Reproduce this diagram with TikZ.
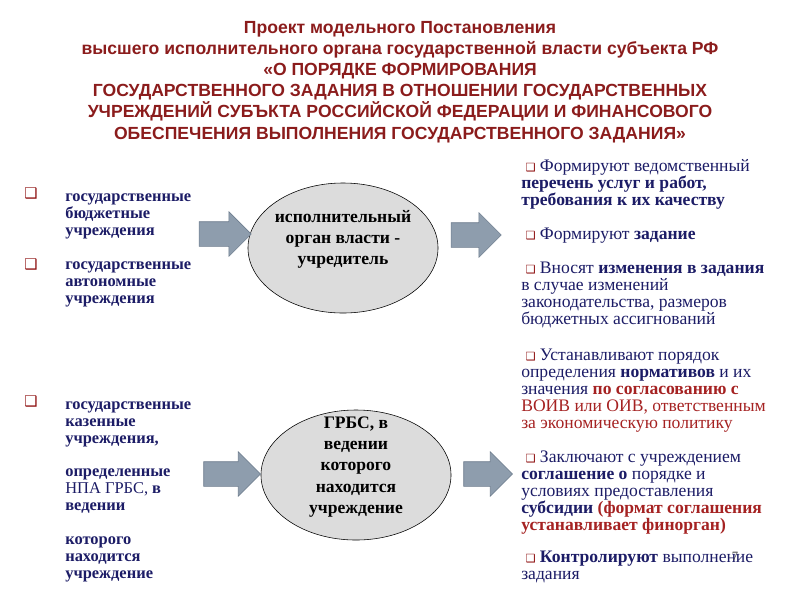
\documentclass[tikz,border=0pt]{standalone}
\usepackage{fontspec}
\setmainfont{Liberation Serif}
\newfontfamily\titlefont{Liberation Sans}
\newfontfamily\bulletfont{DejaVu Sans}
\usetikzlibrary{shapes.geometric, shapes.arrows}
\definecolor{titlered}{HTML}{8B1C1C}
\definecolor{navy}{HTML}{1C1C66}
\definecolor{notered}{HTML}{A52222}
\definecolor{bulletred}{HTML}{8B0A0A}
\definecolor{ovalgray}{HTML}{DCDCDC}
\definecolor{arrowfill}{HTML}{8E9DAD}
\definecolor{arrowline}{HTML}{6E7D8E}
\newcommand{\sqbul}{{\bulletfont\fontsize{8}{8}\selectfont\color{bulletred}❑}}

\begin{document}
\begin{tikzpicture}[x=0.025cm, y=-0.025cm,
  titletext/.style={anchor=base, inner sep=0pt, align=center, text=titlered,
    font=\titlefont\bfseries\fontsize{12.5}{15}\selectfont},
  leftlist/.style={anchor=base west, inner sep=0pt, align=left, text=navy,
    font=\bfseries\fontsize{11.7}{12}\selectfont},
  rightlist/.style={anchor=base west, inner sep=0pt, align=left, text=navy,
    font=\fontsize{12.5}{12}\selectfont},
  leftbullet/.style={inner sep=0pt, text=bulletred, font=\bulletfont\fontsize{10.5}{10.5}\selectfont},
  oval/.style={ellipse, draw=black, thin, fill=ovalgray, minimum width=4.75cm, minimum height=3.25cm},
  ovaltext/.style={align=center, inner sep=0pt, font=\bfseries\fontsize{12.5}{15}\selectfont},
  blockarrow/.style={single arrow, draw=arrowline, fill=arrowfill, inner xsep=0pt, inner ysep=0.3cm,
    single arrow head extend=0.25cm}
]
\useasboundingbox (0,0) rectangle (800,600);

% title (base = last line)
\node[titletext] (title) at (400,139) {Проект модельного Постановления\\
  высшего исполнительного органа государственной власти субъекта РФ\\
  «О ПОРЯДКЕ ФОРМИРОВАНИЯ\\
  ГОСУДАРСТВЕННОГО ЗАДАНИЯ В ОТНОШЕНИИ ГОСУДАРСТВЕННЫХ\\
  УЧРЕЖДЕНИЙ СУБЪКТА РОССИЙСКОЙ ФЕДЕРАЦИИ И ФИНАНСОВОГО\\
  ОБЕСПЕЧЕНИЯ ВЫПОЛНЕНИЯ ГОСУДАРСТВЕННОГО ЗАДАНИЯ»};

% left column
\node[leftbullet] (bulbu) at (31,193) {❑};
\node[leftlist] (budget) at (65,235) {государственные\\ бюджетные\\ учреждения};
\node[leftbullet] (bulau) at (31,264) {❑};
\node[leftlist] (auton) at (65,303) {государственные\\ автономные\\ учреждения};
\node[leftbullet] (bulku) at (31,401) {❑};
\node[leftlist] (kazen) at (65,578) {государственные\\ казенные\\ учреждения,\\ \\
  определенные\\ {\mdseries НПА ГРБС,} в\\ ведении\\ \\ которого\\ находится\\ учреждение};

% ovals
\node[oval] (oiv) at (343,248) {};
\node[ovaltext] (oivtext) at (343,239) {исполнительный\\ орган власти -\\ учредитель};
\node[oval] (grbs) at (356,475) {};
\node[ovaltext] (grbstext) at (356,467) {ГРБС, в\\ ведении\\ которого\\ находится\\ учреждение};

% block arrows
\node[blockarrow, minimum height=1.3cm] (inone) at (219,234) {};
\node[blockarrow, minimum height=1.25cm] (outone) at (470,235) {};
\node[blockarrow, minimum height=1.42cm] (intwo) at (226,474) {};
\node[blockarrow, minimum height=1.22cm] (outtwo) at (482,474) {};

% right column
\node[rightlist] (perechen) at (521,205) {\hspace{3pt}\sqbul\ Формируют ведомственный\\
  \textbf{перечень услуг и работ,}\\ \textbf{требования к их качеству}};
\node[rightlist] (zadanie) at (521,239) {\hspace{3pt}\sqbul\ Формируют \textbf{задание}};
\node[rightlist] (izmen) at (521,324) {\hspace{3pt}\sqbul\ Вносят \textbf{изменения в задания}\\
  в случае изменений\\ законодательства, размеров\\ бюджетных ассигнований};
\node[rightlist] (normativ) at (521,428) {\hspace{3pt}\sqbul\ Устанавливают порядок\\
  определения \textbf{нормативов} и их\\
  значения \textcolor{notered}{\textbf{по согласованию с}}\\
  \textcolor{notered}{ВОИВ или ОИВ, ответственным}\\
  \textcolor{notered}{за экономическую политику}};
\node[rightlist] (soglash) at (521,530) {\hspace{3pt}\sqbul\ Заключают с учреждением\\
  \textbf{соглашение о} порядке и\\ условиях предоставления\\
  \textbf{субсидии} \textcolor{notered}{\textbf{(формат соглашения}}\\
  \textcolor{notered}{\textbf{устанавливает финорган)}}};
\node[rightlist] (kontrol) at (521,579) {\hspace{3pt}\sqbul\ \textbf{Контролируют} выполнение\\ задания};

\node[inner sep=0pt, font=\fontsize{9}{9}\selectfont, text=black!75] (slideno) at (735,556) {7};
\end{tikzpicture}
\end{document}
